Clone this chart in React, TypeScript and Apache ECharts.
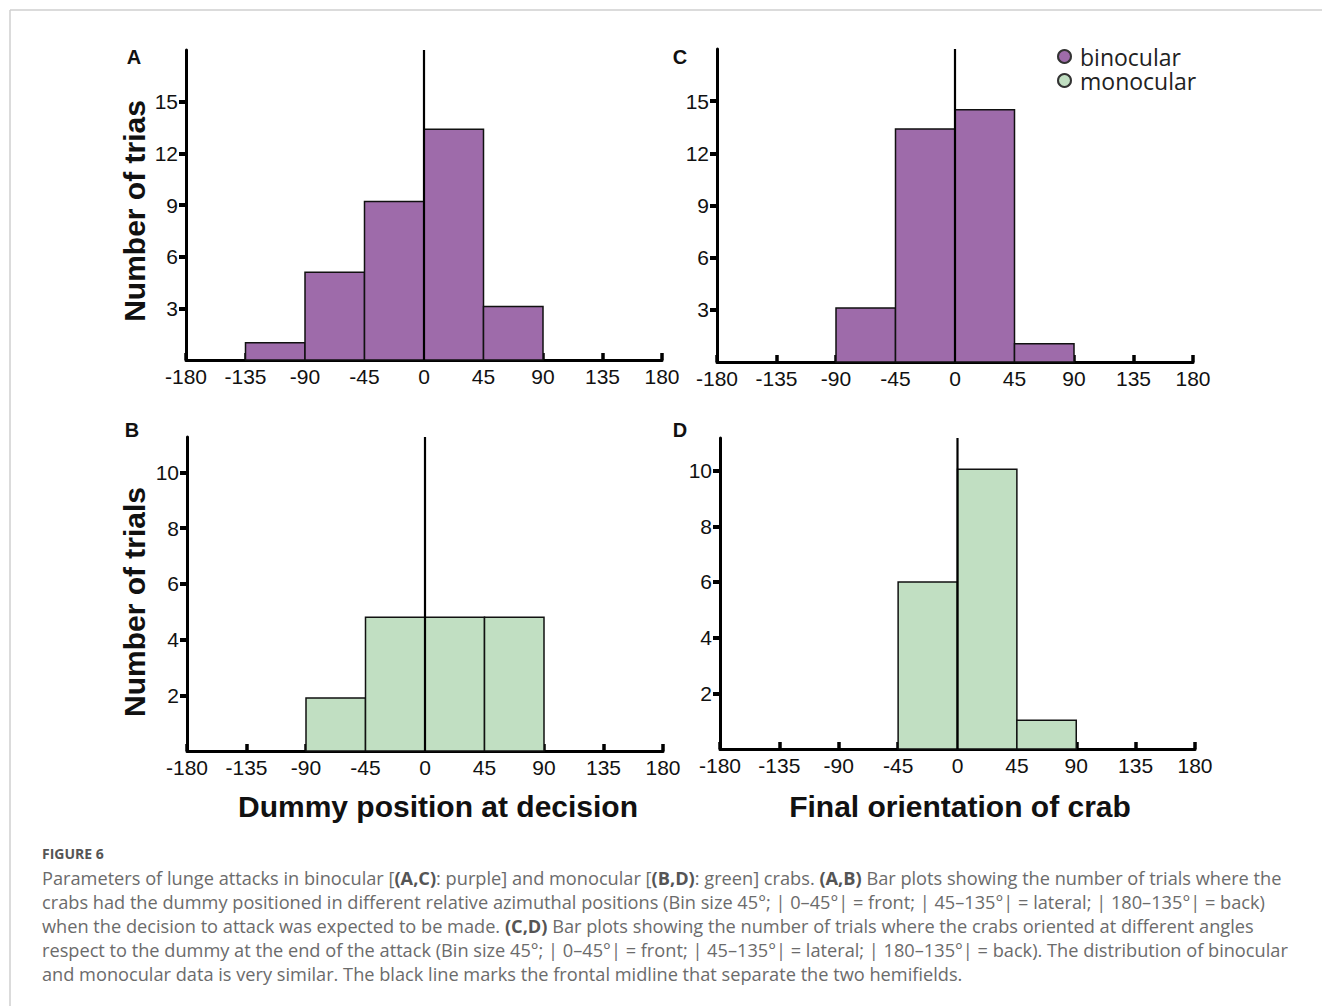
import React, { useEffect, useRef } from "react";
import * as echarts from "echarts";

// ---------- data ----------
const BIN_WIDTH = 45;
const xTickInterval = 45;

// Panel A: dummy position at decision, binocular
const dummyBinsBinocular = [-135, -90, -45, 0, 45];
const dummyCountsBinocular = [1.0, 5.1, 9.2, 13.4, 3.1];

// Panel C: final orientation, binocular
const orientBinsBinocular = [-90, -45, 0, 45];
const orientCountsBinocular = [3.1, 13.4, 14.5, 1.05];

// Panel B: dummy position at decision, monocular
const dummyBinsMonocular = [-90, -45, 0, 45];
const dummyCountsMonocular = [1.9, 4.8, 4.8, 4.8];

// Panel D: final orientation, monocular
const orientBinsMonocular = [-45, 0, 45];
const orientCountsMonocular = [6.0, 10.05, 1.03];

const yTicksTop = [3, 6, 9, 12, 15];
const yTicksBottom = [2, 4, 6, 8, 10];

const legendNames = ["binocular", "monocular"];

const captionTitle = "FIGURE 6";
const captionLines = [
  "Parameters of lunge attacks in binocular [{b|(A,C)}: purple] and monocular [{b|(B,D)}: green] crabs. {b|(A,B)} Bar plots showing the number of trials where the",
  "crabs had the dummy positioned in different relative azimuthal positions (Bin size 45°; | 0–45°| = front; | 45–135°| = lateral; | 180–135°| = back)",
  "when the decision to attack was expected to be made. {b|(C,D)} Bar plots showing the number of trials where the crabs oriented at different angles",
  "respect to the dummy at the end of the attack (Bin size 45°; | 0–45°| = front; | 45–135°| = lateral; | 180–135°| = back). The distribution of binocular",
  "and monocular data is very similar. The black line marks the frontal midline that separate the two hemifields.",
];

// ---------- styles ----------
const PURPLE = "#9e6baa";
const GREEN = "#c1dfc2";
const FONT = "'Liberation Sans', Arial, sans-serif";
const CAPTION_FONT = "'Open Sans', Lato, sans-serif";
const CAPTION_SIZE = 18.2;

const toHist = (bins: number[], counts: number[]) =>
  bins.map((b, i) => [b, b + BIN_WIDTH, counts[i]]);

const grids = [
  { left: 186, top: 50, width: 476, height: 310 }, // A
  { left: 717, top: 49, width: 476, height: 313 }, // C
  { left: 187, top: 437, width: 476, height: 314 }, // B
  { left: 720, top: 438, width: 475, height: 311 }, // D
];
const yMax = [18, 18, 11.27, 11.17];
const yTicks = [yTicksTop, yTicksTop, yTicksBottom, yTicksBottom];

export default function App() {
  const ref = useRef<HTMLDivElement>(null);
  useEffect(() => {
    if (!ref.current) return;
    const chart = echarts.init(ref.current, null, { renderer: "svg" });

    const xAxes = grids.map((_, i) => ({
      type: "value",
      gridIndex: i,
      min: -180,
      max: 180,
      interval: xTickInterval,
      axisLine: { show: true, onZero: false, lineStyle: { color: "#000", width: 3 } },
      axisTick: { show: true, inside: true, length: 7, lineStyle: { color: "#000", width: 3.5 } },
      axisLabel: { fontSize: 21, color: "#111", fontFamily: FONT, margin: 6 },
      splitLine: { show: false },
    }));
    const yAxes = grids.map((_, i) => ({
      type: "value",
      gridIndex: i,
      min: 0,
      max: yMax[i],
      axisLine: { show: true, onZero: false, lineStyle: { color: "#000", width: 3 } },
      axisTick: { show: true, length: 7, customValues: yTicks[i], lineStyle: { color: "#000", width: 4 } },
      axisLabel: { fontSize: 21, color: "#111", fontFamily: FONT, margin: 8, customValues: yTicks[i] },
      splitLine: { show: false },
    }));

    const histSeries = (name: string, idx: number, data: number[][], color: string) => ({
      type: "custom",
      name,
      xAxisIndex: idx,
      yAxisIndex: idx,
      itemStyle: { color, borderColor: "#333", borderWidth: 1 },
      encode: { x: [0, 1], y: 2 },
      data,
      z: 2,
      renderItem: (params: any, api: any) => {
        const p0 = api.coord([api.value(0), api.value(2)]);
        const p1 = api.coord([api.value(1), 0]);
        return {
          type: "rect",
          shape: { x: p0[0], y: p0[1], width: p1[0] - p0[0], height: p1[1] - p0[1] },
          style: { fill: color, stroke: "#111", lineWidth: 1.5 },
        };
      },
    });
    const midline = (idx: number) => ({
      type: "line",
      name: "midline" + idx,
      xAxisIndex: idx,
      yAxisIndex: idx,
      data: [
        [0, 0],
        [0, yMax[idx]],
      ],
      symbol: "none",
      lineStyle: { color: "#000", width: 2.2 },
      z: 5,
      silent: true,
    });

    const text = (t: string, x: number, y: number, size: number, extra: any = {}) => ({
      type: "text",
      x,
      y,
      rotation: extra.rotation || 0,
      style: {
        text: t,
        x: 0,
        y: 0,
        align: extra.align || "center",
        verticalAlign: "middle",
        fontSize: size,
        fontWeight: extra.weight || "bold",
        fontFamily: extra.family || FONT,
        fill: extra.fill || "#111",
        rich: extra.rich,
      },
    });

    const graphics: any[] = [
      { type: "line", shape: { x1: 10, y1: 10, x2: 1322, y2: 10 }, style: { stroke: "#cfcfcf", lineWidth: 1.5 } },
      { type: "line", shape: { x1: 10, y1: 10, x2: 10, y2: 1006 }, style: { stroke: "#cfcfcf", lineWidth: 1.5 } },
      text("A", 134, 57, 20),
      text("C", 680, 57, 20),
      text("B", 132, 430, 20),
      text("D", 680, 430, 20),
      text("Number of trias", 134, 211, 30, { rotation: Math.PI / 2 }),
      text("Number of trials", 134, 602, 30, { rotation: Math.PI / 2 }),
      text("Dummy position at decision", 438, 806, 30),
      text("Final orientation of crab", 960, 806, 30),
      text(captionTitle, 42, 853, 14, { align: "left", fill: "#555", family: CAPTION_FONT }),
      ...captionLines.map((l, i) =>
        text(l, 42, 878 + i * 24, CAPTION_SIZE, {
          align: "left",
          weight: "normal",
          fill: "#6b6b6b",
          family: CAPTION_FONT,
          rich: {
            b: { fontWeight: "bold", fill: "#555", fontSize: CAPTION_SIZE, fontFamily: CAPTION_FONT },
          },
        })
      ),
    ];

    chart.setOption({
      animation: false,
      backgroundColor: "#fff",
      grid: grids,
      xAxis: xAxes,
      yAxis: yAxes,
      legend: {
        data: legendNames,
        orient: "vertical",
        left: 1057,
        top: 45,
        padding: 0,
        itemWidth: 13,
        itemHeight: 13,
        itemGap: 1,
        icon: "circle",
        textStyle: { fontSize: 23, color: "#222", fontFamily: "'Open Sans', sans-serif", lineHeight: 23, padding: [0, 0, 0, 4] },
      },
      series: [
        histSeries("binocular", 0, toHist(dummyBinsBinocular, dummyCountsBinocular), PURPLE),
        histSeries("binocular", 1, toHist(orientBinsBinocular, orientCountsBinocular), PURPLE),
        histSeries("monocular", 2, toHist(dummyBinsMonocular, dummyCountsMonocular), GREEN),
        histSeries("monocular", 3, toHist(orientBinsMonocular, orientCountsMonocular), GREEN),
        midline(0),
        midline(1),
        midline(2),
        midline(3),
      ],
      graphic: graphics,
    });
    return () => chart.dispose();
  }, []);
  return (
    <div
      ref={ref}
      style={{ position: "fixed", left: 0, top: 0, width: 1322, height: 1006, background: "#fff" }}
    />
  );
}
